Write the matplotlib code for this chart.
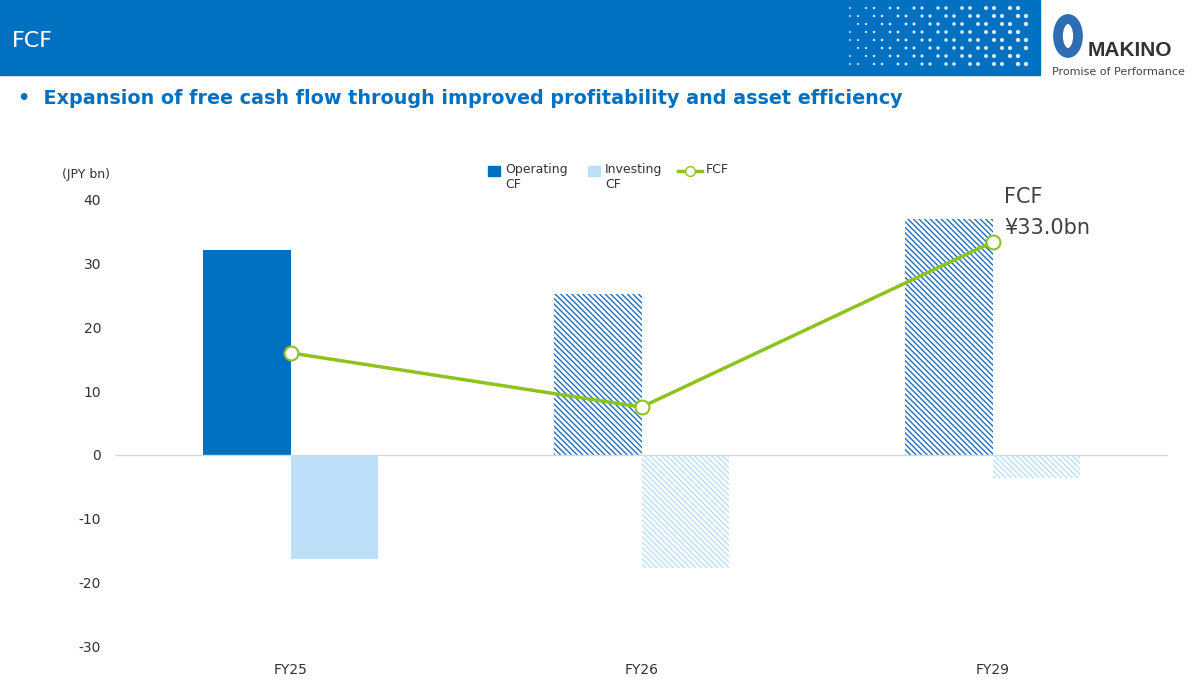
import matplotlib
matplotlib.use("Agg")
import matplotlib.pyplot as plt
import matplotlib.patches as mpatches
import numpy as np

categories = ["FY25", "FY26", "FY29"]
operating_cf = [32.2, 25.3, 37.0]
investing_cf = [-16.3, -17.7, -3.6]
fcf = [16.0, 7.5, 33.4]
yticks = [40, 30, 20, 10, 0, -10, -20, -30]

W, H = 1200, 690
fig = plt.figure(figsize=(12, 6.9), dpi=100)
plt.rcParams['hatch.linewidth'] = 1.0

# header band
fig.patches.append(mpatches.Rectangle((0, 1 - 75 / H), 1040 / W, 75 / H, transform=fig.transFigure,
                                      color="#0070C0", zorder=0))
sc = fig.add_axes([0, 0, 1, 1], zorder=2); sc.axis("off"); sc.set_xlim(0, 1); sc.set_ylim(0, 1)
# dotted pattern
xs, ys, ss = [], [], []
for i, x in enumerate(np.arange(850, 1030, 8)):
    for y in np.arange(8, 72, 8):
        if (i * 7 + int(y)) % 3 != 0:
            xs.append(x / W); ys.append(1 - y / H); ss.append(2 + 8 * (i / 22))
sc.scatter(xs, ys, s=ss, color="white", alpha=0.85, linewidths=0)
# logo
sc.add_patch(mpatches.Ellipse((1068 / W, 1 - 36 / H), 20 / W, 34 / H, facecolor="none",
                              edgecolor="#2E6DB4", linewidth=7))
sc.text(1088 / W, 1 - 56 / H, "MAKINO", fontsize=15, color="#333333", fontweight="bold",
        fontfamily="Liberation Sans")
sc.text(1052 / W, 1 - 75 / H, "Promise of Performance", fontsize=8, color="#444444")
sc.text(12 / W, 1 - 47 / H, "FCF", fontsize=16, color="white")
sc.text(18 / W, 1 - 104 / H, "•  Expansion of free cash flow through improved profitability and asset efficiency",
        fontsize=13.8, color="#0070C0", fontweight="bold")

ax = fig.add_axes([115 / W, 44 / H, (1168 - 115) / W, (646 - 200) / H])
x = np.arange(len(categories))
w = 0.25
for i in range(len(categories)):
    if i == 0:
        ax.bar(x[i] - w / 2, operating_cf[i], w, color="#0070C0")
        ax.bar(x[i] + w / 2, investing_cf[i], w, color="#BDE0FA")
    else:
        ax.bar(x[i] - w / 2, operating_cf[i], w, facecolor="white", edgecolor="#1F6FBF",
               hatch="\\\\\\\\\\\\", linewidth=0)
        ax.bar(x[i] + w / 2, investing_cf[i], w, facecolor="white", edgecolor="#BDE0FA",
               hatch="\\\\\\\\\\\\", linewidth=0)
ax.plot(x, fcf, color="#8DC21F", linewidth=2.5, marker="o", markersize=10,
        markerfacecolor="white", markeredgecolor="#8DC21F", markeredgewidth=1.5, zorder=5)
ax.axhline(0, color="#D9D9D9", linewidth=1)
ax.set_xlim(-0.5, 2.5)
ax.set_ylim(-30, 40)
ax.set_yticks(yticks)
ax.set_yticklabels([str(t) for t in yticks], fontsize=10, color="#333333")
ax.set_xticks(x)
ax.set_xticklabels(categories, fontsize=10, color="#333333")
ax.tick_params(length=0, pad=10)
ax.tick_params(axis="x", pad=12)
for s in ax.spines.values():
    s.set_visible(False)

sc.text(62 / W, 1 - 178 / H, "(JPY bn)", fontsize=9, color="#333333")
sc.text(1004 / W, 1 - 203 / H, "FCF", fontsize=15, color="#404040")
sc.text(1004 / W, 1 - 234 / H, "¥33.0bn", fontsize=15, color="#404040")

# legend
sc.add_patch(mpatches.Rectangle((488 / W, 1 - 176 / H), 12 / W, 10 / H, color="#0070C0"))
sc.text(505 / W, 1 - 163 / H, "Operating\nCF", fontsize=9, color="#333333", va="top", linespacing=1.2)
sc.add_patch(mpatches.Rectangle((588 / W, 1 - 176 / H), 12 / W, 10 / H, color="#BDE0FA"))
sc.text(605 / W, 1 - 163 / H, "Investing\nCF", fontsize=9, color="#333333", va="top", linespacing=1.2)
sc.plot([678 / W, 702 / W], [1 - 171 / H] * 2, color="#8DC21F", linewidth=2.5)
sc.plot([690 / W], [1 - 171 / H], "o", markersize=7, markerfacecolor="white", markeredgecolor="#8DC21F")
sc.text(706 / W, 1 - 163 / H, "FCF", fontsize=9, color="#333333", va="top")

fig.savefig("out.png", dpi=100)
